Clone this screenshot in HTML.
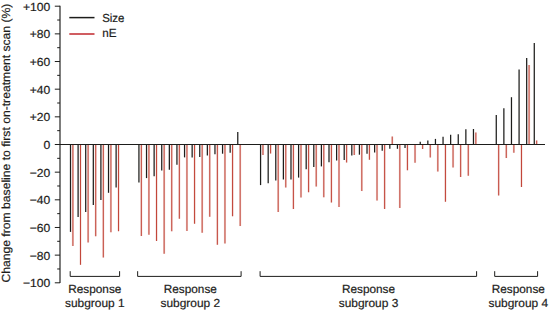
<!DOCTYPE html>
<html><head><meta charset="utf-8"><title>Chart</title>
<style>
html,body{margin:0;padding:0;background:#fff;}
svg{display:block}
text{font-family:"Liberation Sans",Arial,Helvetica,sans-serif;font-size:11.7px;fill:#1d1d1b;stroke:#1d1d1b;stroke-width:0.2px;text-rendering:geometricPrecision;}
</style></head><body>
<svg width="549" height="311" viewBox="0 0 549 311">
<rect width="549" height="311" fill="#fff"/>
<g shape-rendering="auto">
<line x1="70.50" x2="70.50" y1="144.5" y2="231.9" stroke="#1d1d1b" stroke-width="1.25"/>
<line x1="72.90" x2="72.90" y1="144.5" y2="245.9" stroke="#c2463a" stroke-opacity="0.18" stroke-width="2.2"/>
<line x1="72.90" x2="72.90" y1="144.5" y2="245.9" stroke="#c2463a" stroke-width="1.05"/>
<line x1="78.10" x2="78.10" y1="144.5" y2="217" stroke="#1d1d1b" stroke-width="1.25"/>
<line x1="80.50" x2="80.50" y1="144.5" y2="264.8" stroke="#c2463a" stroke-opacity="0.18" stroke-width="2.2"/>
<line x1="80.50" x2="80.50" y1="144.5" y2="264.8" stroke="#c2463a" stroke-width="1.05"/>
<line x1="85.71" x2="85.71" y1="144.5" y2="212" stroke="#1d1d1b" stroke-width="1.25"/>
<line x1="88.11" x2="88.11" y1="144.5" y2="242.4" stroke="#c2463a" stroke-opacity="0.18" stroke-width="2.2"/>
<line x1="88.11" x2="88.11" y1="144.5" y2="242.4" stroke="#c2463a" stroke-width="1.05"/>
<line x1="93.31" x2="93.31" y1="144.5" y2="204.9" stroke="#1d1d1b" stroke-width="1.25"/>
<line x1="95.71" x2="95.71" y1="144.5" y2="236.2" stroke="#c2463a" stroke-opacity="0.18" stroke-width="2.2"/>
<line x1="95.71" x2="95.71" y1="144.5" y2="236.2" stroke="#c2463a" stroke-width="1.05"/>
<line x1="100.91" x2="100.91" y1="144.5" y2="200" stroke="#1d1d1b" stroke-width="1.25"/>
<line x1="103.31" x2="103.31" y1="144.5" y2="257.5" stroke="#c2463a" stroke-opacity="0.18" stroke-width="2.2"/>
<line x1="103.31" x2="103.31" y1="144.5" y2="257.5" stroke="#c2463a" stroke-width="1.05"/>
<line x1="108.52" x2="108.52" y1="144.5" y2="192.8" stroke="#1d1d1b" stroke-width="1.25"/>
<line x1="110.92" x2="110.92" y1="144.5" y2="232.2" stroke="#c2463a" stroke-opacity="0.18" stroke-width="2.2"/>
<line x1="110.92" x2="110.92" y1="144.5" y2="232.2" stroke="#c2463a" stroke-width="1.05"/>
<line x1="116.12" x2="116.12" y1="144.5" y2="187.5" stroke="#1d1d1b" stroke-width="1.25"/>
<line x1="118.52" x2="118.52" y1="144.5" y2="231.2" stroke="#c2463a" stroke-opacity="0.18" stroke-width="2.2"/>
<line x1="118.52" x2="118.52" y1="144.5" y2="231.2" stroke="#c2463a" stroke-width="1.05"/>
<line x1="138.93" x2="138.93" y1="144.5" y2="182.6" stroke="#1d1d1b" stroke-width="1.25"/>
<line x1="141.33" x2="141.33" y1="144.5" y2="236.1" stroke="#c2463a" stroke-opacity="0.18" stroke-width="2.2"/>
<line x1="141.33" x2="141.33" y1="144.5" y2="236.1" stroke="#c2463a" stroke-width="1.05"/>
<line x1="146.53" x2="146.53" y1="144.5" y2="178.1" stroke="#1d1d1b" stroke-width="1.25"/>
<line x1="148.93" x2="148.93" y1="144.5" y2="234.7" stroke="#c2463a" stroke-opacity="0.18" stroke-width="2.2"/>
<line x1="148.93" x2="148.93" y1="144.5" y2="234.7" stroke="#c2463a" stroke-width="1.05"/>
<line x1="154.13" x2="154.13" y1="144.5" y2="176.3" stroke="#1d1d1b" stroke-width="1.25"/>
<line x1="156.53" x2="156.53" y1="144.5" y2="240.9" stroke="#c2463a" stroke-opacity="0.18" stroke-width="2.2"/>
<line x1="156.53" x2="156.53" y1="144.5" y2="240.9" stroke="#c2463a" stroke-width="1.05"/>
<line x1="161.74" x2="161.74" y1="144.5" y2="170.5" stroke="#1d1d1b" stroke-width="1.25"/>
<line x1="164.14" x2="164.14" y1="144.5" y2="253.8" stroke="#c2463a" stroke-opacity="0.18" stroke-width="2.2"/>
<line x1="164.14" x2="164.14" y1="144.5" y2="253.8" stroke="#c2463a" stroke-width="1.05"/>
<line x1="169.34" x2="169.34" y1="144.5" y2="169.7" stroke="#1d1d1b" stroke-width="1.25"/>
<line x1="171.74" x2="171.74" y1="144.5" y2="231.3" stroke="#c2463a" stroke-opacity="0.18" stroke-width="2.2"/>
<line x1="171.74" x2="171.74" y1="144.5" y2="231.3" stroke="#c2463a" stroke-width="1.05"/>
<line x1="176.94" x2="176.94" y1="144.5" y2="164.7" stroke="#1d1d1b" stroke-width="1.25"/>
<line x1="179.34" x2="179.34" y1="144.5" y2="218.7" stroke="#c2463a" stroke-opacity="0.18" stroke-width="2.2"/>
<line x1="179.34" x2="179.34" y1="144.5" y2="218.7" stroke="#c2463a" stroke-width="1.05"/>
<line x1="184.55" x2="184.55" y1="144.5" y2="157.4" stroke="#1d1d1b" stroke-width="1.25"/>
<line x1="186.95" x2="186.95" y1="144.5" y2="230.9" stroke="#c2463a" stroke-opacity="0.18" stroke-width="2.2"/>
<line x1="186.95" x2="186.95" y1="144.5" y2="230.9" stroke="#c2463a" stroke-width="1.05"/>
<line x1="192.15" x2="192.15" y1="144.5" y2="157.4" stroke="#1d1d1b" stroke-width="1.25"/>
<line x1="194.55" x2="194.55" y1="144.5" y2="223.7" stroke="#c2463a" stroke-opacity="0.18" stroke-width="2.2"/>
<line x1="194.55" x2="194.55" y1="144.5" y2="223.7" stroke="#c2463a" stroke-width="1.05"/>
<line x1="199.75" x2="199.75" y1="144.5" y2="157.1" stroke="#1d1d1b" stroke-width="1.25"/>
<line x1="202.15" x2="202.15" y1="144.5" y2="232.8" stroke="#c2463a" stroke-opacity="0.18" stroke-width="2.2"/>
<line x1="202.15" x2="202.15" y1="144.5" y2="232.8" stroke="#c2463a" stroke-width="1.05"/>
<line x1="207.35" x2="207.35" y1="144.5" y2="155.6" stroke="#1d1d1b" stroke-width="1.25"/>
<line x1="209.75" x2="209.75" y1="144.5" y2="216.8" stroke="#c2463a" stroke-opacity="0.18" stroke-width="2.2"/>
<line x1="209.75" x2="209.75" y1="144.5" y2="216.8" stroke="#c2463a" stroke-width="1.05"/>
<line x1="214.96" x2="214.96" y1="144.5" y2="154.2" stroke="#1d1d1b" stroke-width="1.25"/>
<line x1="217.36" x2="217.36" y1="144.5" y2="244.8" stroke="#c2463a" stroke-opacity="0.18" stroke-width="2.2"/>
<line x1="217.36" x2="217.36" y1="144.5" y2="244.8" stroke="#c2463a" stroke-width="1.05"/>
<line x1="222.56" x2="222.56" y1="144.5" y2="153.7" stroke="#1d1d1b" stroke-width="1.25"/>
<line x1="224.96" x2="224.96" y1="144.5" y2="243.4" stroke="#c2463a" stroke-opacity="0.18" stroke-width="2.2"/>
<line x1="224.96" x2="224.96" y1="144.5" y2="243.4" stroke="#c2463a" stroke-width="1.05"/>
<line x1="230.16" x2="230.16" y1="144.5" y2="152.7" stroke="#1d1d1b" stroke-width="1.25"/>
<line x1="232.56" x2="232.56" y1="144.5" y2="216.2" stroke="#c2463a" stroke-opacity="0.18" stroke-width="2.2"/>
<line x1="232.56" x2="232.56" y1="144.5" y2="216.2" stroke="#c2463a" stroke-width="1.05"/>
<line x1="237.77" x2="237.77" y1="144.5" y2="132.1" stroke="#1d1d1b" stroke-width="1.25"/>
<line x1="240.17" x2="240.17" y1="144.5" y2="226.1" stroke="#c2463a" stroke-opacity="0.18" stroke-width="2.2"/>
<line x1="240.17" x2="240.17" y1="144.5" y2="226.1" stroke="#c2463a" stroke-width="1.05"/>
<line x1="260.57" x2="260.57" y1="144.5" y2="185.1" stroke="#1d1d1b" stroke-width="1.25"/>
<line x1="262.97" x2="262.97" y1="144.5" y2="155" stroke="#c2463a" stroke-opacity="0.18" stroke-width="2.2"/>
<line x1="262.97" x2="262.97" y1="144.5" y2="155" stroke="#c2463a" stroke-width="1.05"/>
<line x1="268.18" x2="268.18" y1="144.5" y2="183.2" stroke="#1d1d1b" stroke-width="1.25"/>
<line x1="270.58" x2="270.58" y1="144.5" y2="153.6" stroke="#c2463a" stroke-opacity="0.18" stroke-width="2.2"/>
<line x1="270.58" x2="270.58" y1="144.5" y2="153.6" stroke="#c2463a" stroke-width="1.05"/>
<line x1="275.78" x2="275.78" y1="144.5" y2="180.5" stroke="#1d1d1b" stroke-width="1.25"/>
<line x1="278.18" x2="278.18" y1="144.5" y2="212" stroke="#c2463a" stroke-opacity="0.18" stroke-width="2.2"/>
<line x1="278.18" x2="278.18" y1="144.5" y2="212" stroke="#c2463a" stroke-width="1.05"/>
<line x1="283.38" x2="283.38" y1="144.5" y2="179.5" stroke="#1d1d1b" stroke-width="1.25"/>
<line x1="285.78" x2="285.78" y1="144.5" y2="187.5" stroke="#c2463a" stroke-opacity="0.18" stroke-width="2.2"/>
<line x1="285.78" x2="285.78" y1="144.5" y2="187.5" stroke="#c2463a" stroke-width="1.05"/>
<line x1="290.99" x2="290.99" y1="144.5" y2="179.5" stroke="#1d1d1b" stroke-width="1.25"/>
<line x1="293.39" x2="293.39" y1="144.5" y2="209.1" stroke="#c2463a" stroke-opacity="0.18" stroke-width="2.2"/>
<line x1="293.39" x2="293.39" y1="144.5" y2="209.1" stroke="#c2463a" stroke-width="1.05"/>
<line x1="298.59" x2="298.59" y1="144.5" y2="177.6" stroke="#1d1d1b" stroke-width="1.25"/>
<line x1="300.99" x2="300.99" y1="144.5" y2="197.4" stroke="#c2463a" stroke-opacity="0.18" stroke-width="2.2"/>
<line x1="300.99" x2="300.99" y1="144.5" y2="197.4" stroke="#c2463a" stroke-width="1.05"/>
<line x1="306.19" x2="306.19" y1="144.5" y2="169.3" stroke="#1d1d1b" stroke-width="1.25"/>
<line x1="308.59" x2="308.59" y1="144.5" y2="192.2" stroke="#c2463a" stroke-opacity="0.18" stroke-width="2.2"/>
<line x1="308.59" x2="308.59" y1="144.5" y2="192.2" stroke="#c2463a" stroke-width="1.05"/>
<line x1="313.80" x2="313.80" y1="144.5" y2="167" stroke="#1d1d1b" stroke-width="1.25"/>
<line x1="316.20" x2="316.20" y1="144.5" y2="186.6" stroke="#c2463a" stroke-opacity="0.18" stroke-width="2.2"/>
<line x1="316.20" x2="316.20" y1="144.5" y2="186.6" stroke="#c2463a" stroke-width="1.05"/>
<line x1="321.40" x2="321.40" y1="144.5" y2="166.4" stroke="#1d1d1b" stroke-width="1.25"/>
<line x1="323.80" x2="323.80" y1="144.5" y2="197.3" stroke="#c2463a" stroke-opacity="0.18" stroke-width="2.2"/>
<line x1="323.80" x2="323.80" y1="144.5" y2="197.3" stroke="#c2463a" stroke-width="1.05"/>
<line x1="329.00" x2="329.00" y1="144.5" y2="162.3" stroke="#1d1d1b" stroke-width="1.25"/>
<line x1="331.40" x2="331.40" y1="144.5" y2="202.5" stroke="#c2463a" stroke-opacity="0.18" stroke-width="2.2"/>
<line x1="331.40" x2="331.40" y1="144.5" y2="202.5" stroke="#c2463a" stroke-width="1.05"/>
<line x1="336.61" x2="336.61" y1="144.5" y2="160.5" stroke="#1d1d1b" stroke-width="1.25"/>
<line x1="339.00" x2="339.00" y1="144.5" y2="207" stroke="#c2463a" stroke-opacity="0.18" stroke-width="2.2"/>
<line x1="339.00" x2="339.00" y1="144.5" y2="207" stroke="#c2463a" stroke-width="1.05"/>
<line x1="344.21" x2="344.21" y1="144.5" y2="160" stroke="#1d1d1b" stroke-width="1.25"/>
<line x1="346.61" x2="346.61" y1="144.5" y2="162.5" stroke="#c2463a" stroke-opacity="0.18" stroke-width="2.2"/>
<line x1="346.61" x2="346.61" y1="144.5" y2="162.5" stroke="#c2463a" stroke-width="1.05"/>
<line x1="351.81" x2="351.81" y1="144.5" y2="155.5" stroke="#1d1d1b" stroke-width="1.25"/>
<line x1="354.21" x2="354.21" y1="144.5" y2="155" stroke="#c2463a" stroke-opacity="0.18" stroke-width="2.2"/>
<line x1="354.21" x2="354.21" y1="144.5" y2="155" stroke="#c2463a" stroke-width="1.05"/>
<line x1="359.41" x2="359.41" y1="144.5" y2="154.7" stroke="#1d1d1b" stroke-width="1.25"/>
<line x1="361.81" x2="361.81" y1="144.5" y2="191.1" stroke="#c2463a" stroke-opacity="0.18" stroke-width="2.2"/>
<line x1="361.81" x2="361.81" y1="144.5" y2="191.1" stroke="#c2463a" stroke-width="1.05"/>
<line x1="367.02" x2="367.02" y1="144.5" y2="153.7" stroke="#1d1d1b" stroke-width="1.25"/>
<line x1="369.42" x2="369.42" y1="144.5" y2="159.8" stroke="#c2463a" stroke-opacity="0.18" stroke-width="2.2"/>
<line x1="369.42" x2="369.42" y1="144.5" y2="159.8" stroke="#c2463a" stroke-width="1.05"/>
<line x1="374.62" x2="374.62" y1="144.5" y2="152.5" stroke="#1d1d1b" stroke-width="1.25"/>
<line x1="377.02" x2="377.02" y1="144.5" y2="200.6" stroke="#c2463a" stroke-opacity="0.18" stroke-width="2.2"/>
<line x1="377.02" x2="377.02" y1="144.5" y2="200.6" stroke="#c2463a" stroke-width="1.05"/>
<line x1="382.22" x2="382.22" y1="144.5" y2="150.8" stroke="#1d1d1b" stroke-width="1.25"/>
<line x1="384.62" x2="384.62" y1="144.5" y2="208.9" stroke="#c2463a" stroke-opacity="0.18" stroke-width="2.2"/>
<line x1="384.62" x2="384.62" y1="144.5" y2="208.9" stroke="#c2463a" stroke-width="1.05"/>
<line x1="389.83" x2="389.83" y1="144.5" y2="148.8" stroke="#1d1d1b" stroke-width="1.25"/>
<line x1="392.23" x2="392.23" y1="144.5" y2="136.6" stroke="#c2463a" stroke-opacity="0.18" stroke-width="2.2"/>
<line x1="392.23" x2="392.23" y1="144.5" y2="136.6" stroke="#c2463a" stroke-width="1.05"/>
<line x1="397.43" x2="397.43" y1="144.5" y2="148.8" stroke="#1d1d1b" stroke-width="1.25"/>
<line x1="399.83" x2="399.83" y1="144.5" y2="207.9" stroke="#c2463a" stroke-opacity="0.18" stroke-width="2.2"/>
<line x1="399.83" x2="399.83" y1="144.5" y2="207.9" stroke="#c2463a" stroke-width="1.05"/>
<line x1="405.03" x2="405.03" y1="144.5" y2="147.9" stroke="#1d1d1b" stroke-width="1.25"/>
<line x1="407.43" x2="407.43" y1="144.5" y2="170.3" stroke="#c2463a" stroke-opacity="0.18" stroke-width="2.2"/>
<line x1="407.43" x2="407.43" y1="144.5" y2="170.3" stroke="#c2463a" stroke-width="1.05"/>
<line x1="415.03" x2="415.03" y1="144.5" y2="162.7" stroke="#c2463a" stroke-opacity="0.18" stroke-width="2.2"/>
<line x1="415.03" x2="415.03" y1="144.5" y2="162.7" stroke="#c2463a" stroke-width="1.05"/>
<line x1="420.24" x2="420.24" y1="144.5" y2="141.7" stroke="#1d1d1b" stroke-width="1.25"/>
<line x1="422.64" x2="422.64" y1="144.5" y2="149" stroke="#c2463a" stroke-opacity="0.18" stroke-width="2.2"/>
<line x1="422.64" x2="422.64" y1="144.5" y2="149" stroke="#c2463a" stroke-width="1.05"/>
<line x1="427.84" x2="427.84" y1="144.5" y2="140.4" stroke="#1d1d1b" stroke-width="1.25"/>
<line x1="430.24" x2="430.24" y1="144.5" y2="157.4" stroke="#c2463a" stroke-opacity="0.18" stroke-width="2.2"/>
<line x1="430.24" x2="430.24" y1="144.5" y2="157.4" stroke="#c2463a" stroke-width="1.05"/>
<line x1="435.44" x2="435.44" y1="144.5" y2="138.9" stroke="#1d1d1b" stroke-width="1.25"/>
<line x1="437.84" x2="437.84" y1="144.5" y2="171.6" stroke="#c2463a" stroke-opacity="0.18" stroke-width="2.2"/>
<line x1="437.84" x2="437.84" y1="144.5" y2="171.6" stroke="#c2463a" stroke-width="1.05"/>
<line x1="443.05" x2="443.05" y1="144.5" y2="136.8" stroke="#1d1d1b" stroke-width="1.25"/>
<line x1="445.45" x2="445.45" y1="144.5" y2="201.7" stroke="#c2463a" stroke-opacity="0.18" stroke-width="2.2"/>
<line x1="445.45" x2="445.45" y1="144.5" y2="201.7" stroke="#c2463a" stroke-width="1.05"/>
<line x1="450.65" x2="450.65" y1="144.5" y2="134.7" stroke="#1d1d1b" stroke-width="1.25"/>
<line x1="453.05" x2="453.05" y1="144.5" y2="167.4" stroke="#c2463a" stroke-opacity="0.18" stroke-width="2.2"/>
<line x1="453.05" x2="453.05" y1="144.5" y2="167.4" stroke="#c2463a" stroke-width="1.05"/>
<line x1="458.25" x2="458.25" y1="144.5" y2="134.2" stroke="#1d1d1b" stroke-width="1.25"/>
<line x1="460.65" x2="460.65" y1="144.5" y2="177" stroke="#c2463a" stroke-opacity="0.18" stroke-width="2.2"/>
<line x1="460.65" x2="460.65" y1="144.5" y2="177" stroke="#c2463a" stroke-width="1.05"/>
<line x1="465.86" x2="465.86" y1="144.5" y2="129.3" stroke="#1d1d1b" stroke-width="1.25"/>
<line x1="468.26" x2="468.26" y1="144.5" y2="175.7" stroke="#c2463a" stroke-opacity="0.18" stroke-width="2.2"/>
<line x1="468.26" x2="468.26" y1="144.5" y2="175.7" stroke="#c2463a" stroke-width="1.05"/>
<line x1="473.46" x2="473.46" y1="144.5" y2="129" stroke="#1d1d1b" stroke-width="1.25"/>
<line x1="475.86" x2="475.86" y1="144.5" y2="132.5" stroke="#c2463a" stroke-opacity="0.18" stroke-width="2.2"/>
<line x1="475.86" x2="475.86" y1="144.5" y2="132.5" stroke="#c2463a" stroke-width="1.05"/>
<line x1="496.27" x2="496.27" y1="144.5" y2="114.9" stroke="#1d1d1b" stroke-width="1.25"/>
<line x1="498.67" x2="498.67" y1="144.5" y2="195.4" stroke="#c2463a" stroke-opacity="0.18" stroke-width="2.2"/>
<line x1="498.67" x2="498.67" y1="144.5" y2="195.4" stroke="#c2463a" stroke-width="1.05"/>
<line x1="503.87" x2="503.87" y1="144.5" y2="108.2" stroke="#1d1d1b" stroke-width="1.25"/>
<line x1="506.27" x2="506.27" y1="144.5" y2="158.1" stroke="#c2463a" stroke-opacity="0.18" stroke-width="2.2"/>
<line x1="506.27" x2="506.27" y1="144.5" y2="158.1" stroke="#c2463a" stroke-width="1.05"/>
<line x1="511.47" x2="511.47" y1="144.5" y2="97.2" stroke="#1d1d1b" stroke-width="1.25"/>
<line x1="513.87" x2="513.87" y1="144.5" y2="152.7" stroke="#c2463a" stroke-opacity="0.18" stroke-width="2.2"/>
<line x1="513.87" x2="513.87" y1="144.5" y2="152.7" stroke="#c2463a" stroke-width="1.05"/>
<line x1="519.08" x2="519.08" y1="144.5" y2="69.6" stroke="#1d1d1b" stroke-width="1.25"/>
<line x1="521.48" x2="521.48" y1="144.5" y2="187" stroke="#c2463a" stroke-opacity="0.18" stroke-width="2.2"/>
<line x1="521.48" x2="521.48" y1="144.5" y2="187" stroke="#c2463a" stroke-width="1.05"/>
<line x1="526.68" x2="526.68" y1="144.5" y2="58" stroke="#1d1d1b" stroke-width="1.25"/>
<line x1="529.08" x2="529.08" y1="144.5" y2="65.1" stroke="#c2463a" stroke-opacity="0.18" stroke-width="2.2"/>
<line x1="529.08" x2="529.08" y1="144.5" y2="65.1" stroke="#c2463a" stroke-width="1.05"/>
<line x1="534.28" x2="534.28" y1="144.5" y2="43.1" stroke="#1d1d1b" stroke-width="1.25"/>
<line x1="536.68" x2="536.68" y1="144.5" y2="140.4" stroke="#c2463a" stroke-opacity="0.18" stroke-width="2.2"/>
<line x1="536.68" x2="536.68" y1="144.5" y2="140.4" stroke="#c2463a" stroke-width="1.05"/>
</g>
<g>
<line x1="60" x2="60" y1="5.7" y2="282.9" stroke="#1d1d1b" stroke-width="1.15"/>
<line x1="54.8" x2="60" y1="282.80" y2="282.80" stroke="#1d1d1b" stroke-width="1"/>
<line x1="57.2" x2="60" y1="268.97" y2="268.97" stroke="#1d1d1b" stroke-width="1"/>
<line x1="54.8" x2="60" y1="255.14" y2="255.14" stroke="#1d1d1b" stroke-width="1"/>
<line x1="57.2" x2="60" y1="241.31" y2="241.31" stroke="#1d1d1b" stroke-width="1"/>
<line x1="54.8" x2="60" y1="227.48" y2="227.48" stroke="#1d1d1b" stroke-width="1"/>
<line x1="57.2" x2="60" y1="213.65" y2="213.65" stroke="#1d1d1b" stroke-width="1"/>
<line x1="54.8" x2="60" y1="199.82" y2="199.82" stroke="#1d1d1b" stroke-width="1"/>
<line x1="57.2" x2="60" y1="185.99" y2="185.99" stroke="#1d1d1b" stroke-width="1"/>
<line x1="54.8" x2="60" y1="172.16" y2="172.16" stroke="#1d1d1b" stroke-width="1"/>
<line x1="57.2" x2="60" y1="158.33" y2="158.33" stroke="#1d1d1b" stroke-width="1"/>
<line x1="54.8" x2="60" y1="144.50" y2="144.50" stroke="#1d1d1b" stroke-width="1"/>
<line x1="57.2" x2="60" y1="130.67" y2="130.67" stroke="#1d1d1b" stroke-width="1"/>
<line x1="54.8" x2="60" y1="116.84" y2="116.84" stroke="#1d1d1b" stroke-width="1"/>
<line x1="57.2" x2="60" y1="103.01" y2="103.01" stroke="#1d1d1b" stroke-width="1"/>
<line x1="54.8" x2="60" y1="89.18" y2="89.18" stroke="#1d1d1b" stroke-width="1"/>
<line x1="57.2" x2="60" y1="75.35" y2="75.35" stroke="#1d1d1b" stroke-width="1"/>
<line x1="54.8" x2="60" y1="61.52" y2="61.52" stroke="#1d1d1b" stroke-width="1"/>
<line x1="57.2" x2="60" y1="47.69" y2="47.69" stroke="#1d1d1b" stroke-width="1"/>
<line x1="54.8" x2="60" y1="33.86" y2="33.86" stroke="#1d1d1b" stroke-width="1"/>
<line x1="57.2" x2="60" y1="20.03" y2="20.03" stroke="#1d1d1b" stroke-width="1"/>
<line x1="54.8" x2="60" y1="6.20" y2="6.20" stroke="#1d1d1b" stroke-width="1"/>
<line x1="59.5" x2="545" y1="144.5" y2="144.5" stroke="#1d1d1b" stroke-width="1"/>
</g>
<g>
<text x="22.90" y="287.20" font-size="12.4" textLength="27.3" lengthAdjust="spacingAndGlyphs">−100</text>
<text x="29.70" y="259.54" font-size="12.4" textLength="20.5" lengthAdjust="spacingAndGlyphs">−80</text>
<text x="29.70" y="231.88" font-size="12.4" textLength="20.5" lengthAdjust="spacingAndGlyphs">−60</text>
<text x="29.70" y="204.22" font-size="12.4" textLength="20.5" lengthAdjust="spacingAndGlyphs">−40</text>
<text x="29.70" y="176.56" font-size="12.4" textLength="20.5" lengthAdjust="spacingAndGlyphs">−20</text>
<text x="43.40" y="148.90" font-size="12.4" textLength="6.8" lengthAdjust="spacingAndGlyphs">0</text>
<text x="29.70" y="121.24" font-size="12.4" textLength="20.5" lengthAdjust="spacingAndGlyphs">+20</text>
<text x="29.70" y="93.58" font-size="12.4" textLength="20.5" lengthAdjust="spacingAndGlyphs">+40</text>
<text x="29.70" y="65.92" font-size="12.4" textLength="20.5" lengthAdjust="spacingAndGlyphs">+60</text>
<text x="29.70" y="38.26" font-size="12.4" textLength="20.5" lengthAdjust="spacingAndGlyphs">+80</text>
<text x="22.90" y="10.60" font-size="12.4" textLength="27.3" lengthAdjust="spacingAndGlyphs">+100</text>
</g>
<g>
<path d="M70.2 271.2V276.4H119.6V271.2" fill="none" stroke="#1d1d1b" stroke-width="1"/>
<path d="M137.65 271.2V276.4H241.1V271.2" fill="none" stroke="#1d1d1b" stroke-width="1"/>
<path d="M260.1 271.2V276.4H476.6V271.2" fill="none" stroke="#1d1d1b" stroke-width="1"/>
<path d="M494.7 271.2V276.4H537.6V271.2" fill="none" stroke="#1d1d1b" stroke-width="1"/>
<text x="68.25" y="293.3" font-size="12.2" textLength="53.1" lengthAdjust="spacingAndGlyphs">Response</text>
<text x="65.00" y="307.1" font-size="12.2" textLength="59.6" lengthAdjust="spacingAndGlyphs">subgroup 1</text>
<text x="163.75" y="293.3" font-size="12.2" textLength="53.1" lengthAdjust="spacingAndGlyphs">Response</text>
<text x="160.50" y="307.1" font-size="12.2" textLength="59.6" lengthAdjust="spacingAndGlyphs">subgroup 2</text>
<text x="341.95" y="293.3" font-size="12.2" textLength="53.1" lengthAdjust="spacingAndGlyphs">Response</text>
<text x="338.70" y="307.1" font-size="12.2" textLength="59.6" lengthAdjust="spacingAndGlyphs">subgroup 3</text>
<text x="491.75" y="293.3" font-size="12.2" textLength="53.1" lengthAdjust="spacingAndGlyphs">Response</text>
<text x="488.50" y="307.1" font-size="12.2" textLength="59.6" lengthAdjust="spacingAndGlyphs">subgroup 4</text>
</g>
<line x1="69.3" x2="94.5" y1="17.6" y2="17.6" stroke="#1d1d1b" stroke-width="1.5"/>
<line x1="69.3" x2="94.5" y1="34" y2="34" stroke="#c1272d" stroke-width="1.5"/>
<text x="102.2" y="21.8" font-size="12.3" textLength="22.3" lengthAdjust="spacingAndGlyphs">Size</text>
<text x="102.2" y="37.4" font-size="12.3" textLength="14.3" lengthAdjust="spacingAndGlyphs">nE</text>
<text transform="translate(10.3,282.6) rotate(-90)" font-size="12.5" textLength="279" lengthAdjust="spacingAndGlyphs">Change from baseline to first on-treatment scan (%)</text>
</svg>
</body></html>
